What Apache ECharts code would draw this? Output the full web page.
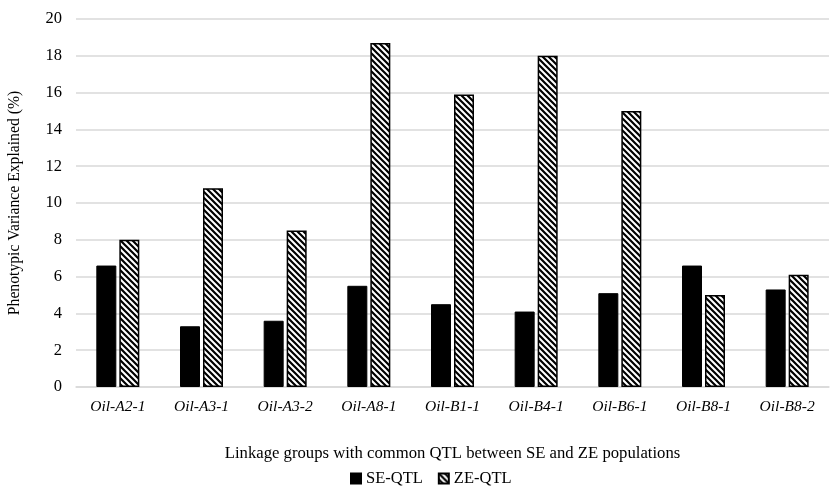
<!DOCTYPE html>
<html>
<head>
<meta charset="utf-8">
<script src="https://cdn.jsdelivr.net/npm/echarts@6/dist/echarts.min.js"></script>
<style>
  html, body { margin: 0; padding: 0; background: #fff; }
  #container { width: 835px; height: 495px; }
</style>
</head>
<body>
<div id="container"></div>
<script>
var categories = ['Oil-A2-1', 'Oil-A3-1', 'Oil-A3-2', 'Oil-A8-1', 'Oil-B1-1', 'Oil-B4-1', 'Oil-B6-1', 'Oil-B8-1', 'Oil-B8-2'];
var seQtl = [6.6, 3.3, 3.6, 5.5, 4.5, 4.1, 5.1, 6.6, 5.3];
var zeQtl = [8.0, 10.8, 8.5, 18.7, 15.9, 18.0, 15.0, 5.0, 6.1];
var yTicks = [0, 2, 4, 6, 8, 10, 12, 14, 16, 18, 20];

var font = '"Liberation Serif", "Times New Roman", serif';

// diagonal hatch "\\\" for ZE bars
function makeHatch() {
  var s = 6;
  var c = document.createElement('canvas');
  c.width = s;
  c.height = s;
  var ctx = c.getContext('2d');
  ctx.fillStyle = '#fff';
  ctx.fillRect(0, 0, s, s);
  ctx.strokeStyle = '#000';
  ctx.lineWidth = 2.2;
  ctx.beginPath();
  ctx.moveTo(0, 0); ctx.lineTo(s, s);
  ctx.moveTo(s - 1, -1); ctx.lineTo(s + 1, 1);
  ctx.moveTo(-1, s - 1); ctx.lineTo(1, s + 1);
  ctx.stroke();
  return c;
}
var hatch = { image: makeHatch(), repeat: 'repeat' };

var myChart = echarts.init(document.getElementById('container'));

var option = {
  animation: false,
  backgroundColor: '#fff',
  textStyle: { fontFamily: font },
  grid: {
    left: 76,
    right: 6,
    top: 19,
    bottom: 108,
    outerBoundsMode: 'none',
    containLabel: false
  },
  legend: {
    left: 345,
    top: 465,
    icon: 'rect',
    itemWidth: 10,
    itemHeight: 10,
    itemGap: 15,
    textStyle: { fontFamily: font, fontSize: 16.5, color: '#000' },
    data: ['SE-QTL', 'ZE-QTL']
  },
  xAxis: {
    type: 'category',
    data: categories,
    name: 'Linkage groups with common QTL between SE and ZE populations',
    nameLocation: 'middle',
    nameGap: 58,
    nameTextStyle: { fontFamily: font, fontSize: 16.7, color: '#000' },
    axisLine: { lineStyle: { color: '#d9d9d9', width: 1.5 } },
    axisTick: { show: false },
    axisLabel: {
      margin: 12,
      fontFamily: font,
      fontSize: 15.5,
      fontStyle: 'italic',
      color: '#000'
    }
  },
  yAxis: {
    type: 'value',
    min: yTicks[0],
    max: yTicks[yTicks.length - 1],
    interval: 2,
    name: 'Phenotypic Variance Explained (%)',
    nameLocation: 'middle',
    nameGap: 53,
    nameTextStyle: { fontFamily: font, fontSize: 15.7, color: '#000' },
    axisLine: { show: false },
    axisTick: { show: false },
    axisLabel: { margin: 14, fontFamily: font, fontSize: 16.5, color: '#000' },
    splitLine: { lineStyle: { color: '#d9d9d9', width: 1.5 } }
  },
  series: [
    {
      name: 'SE-QTL',
      type: 'bar',
      data: seQtl,
      barWidth: 20,
      barGap: '15%',
      itemStyle: { color: '#000', borderColor: '#000', borderWidth: 1 }
    },
    {
      name: 'ZE-QTL',
      type: 'bar',
      data: zeQtl,
      barWidth: 20,
      itemStyle: { color: hatch, borderColor: '#000', borderWidth: 1.5 }
    }
  ]
};

myChart.setOption(option);
</script>
</body>
</html>
